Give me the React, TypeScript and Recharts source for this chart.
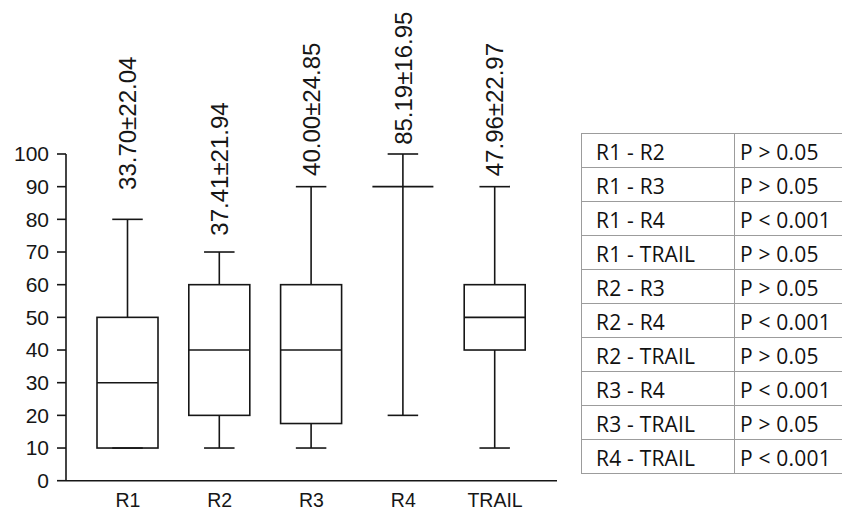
import React from 'react';
import { ComposedChart, Bar, XAxis, YAxis } from 'recharts';

// box plot values
const categories = ['R1', 'R2', 'R3', 'R4', 'TRAIL'];
const whiskerLow = [10, 10, 10, 20, 10];
const quartile1 = [10, 20, 17.5, 90, 40];
const medians = [30, 40, 40, 90, 50];
const quartile3 = [50, 60, 60, 90, 60];
const whiskerHigh = [80, 70, 90, 100, 90];
const meanSdLabels = ['33.70±22.04', '37.41±21.94', '40.00±24.85', '85.19±16.95', '47.96±22.97'];
// value where each rotated label starts
const labelBase = [89, 75, 93.3, 102.8, 93.2];

const yTicks = [0, 10, 20, 30, 40, 50, 60, 70, 80, 90, 100];

const comparisons = [
  'R1 - R2', 'R1 - R3', 'R1 - R4', 'R1 - TRAIL', 'R2 - R3',
  'R2 - R4', 'R2 - TRAIL', 'R3 - R4', 'R3 - TRAIL', 'R4 - TRAIL'
];
const pValues = [
  'P > 0.05', 'P > 0.05', 'P < 0.001', 'P > 0.05', 'P > 0.05',
  'P < 0.001', 'P > 0.05', 'P < 0.001', 'P > 0.05', 'P < 0.001'
];

const data = categories.map((name, i) => ({
  name,
  range: [whiskerLow[i], whiskerHigh[i]],
  min: whiskerLow[i],
  q1: quartile1[i],
  median: medians[i],
  q3: quartile3[i],
  max: whiskerHigh[i],
  label: meanSdLabels[i],
  labelAt: labelBase[i],
}));

const INK = '#161616';
const FONT = "'Liberation Sans', Arial, sans-serif";

const BoxShape = (props: any) => {
  const { x, y, width, height, payload } = props;
  if (!payload) return null;
  const top = Math.min(y, y + height);
  const bottom = Math.max(y, y + height);
  const { min, max } = payload;
  // map a value into the pixel span the bar scale gave for [min, max]
  const py = (v: number) => bottom - ((v - min) / (max - min)) * (bottom - top);
  const cx = x + width / 2;
  const cap = width / 4;
  const yq1 = py(payload.q1);
  const yq3 = py(payload.q3);
  const ly = py(payload.labelAt);
  const flat = yq1 - yq3 < 0.5;
  return (
    <g stroke={INK} strokeWidth={1.6} fill="none">
      <line x1={cx} x2={cx} y1={py(max)} y2={yq3} />
      <line x1={cx} x2={cx} y1={yq1} y2={py(min)} />
      <line x1={cx - cap} x2={cx + cap} y1={py(max)} y2={py(max)} />
      <line x1={cx - cap} x2={cx + cap} y1={py(min)} y2={py(min)} />
      {flat ? (
        <line x1={x} x2={x + width} y1={yq3} y2={yq3} />
      ) : (
        <>
          <rect x={x} y={yq3} width={width} height={yq1 - yq3} />
          <line x1={x} x2={x + width} y1={py(payload.median)} y2={py(payload.median)} />
        </>
      )}
      <text
        x={cx}
        y={ly}
        dy="0.36em"
        transform={`rotate(-90 ${cx} ${ly})`}
        textAnchor="start"
        fontSize={24}
        fontFamily={FONT}
        fill={INK}
        stroke="none"
      >
        {payload.label}
      </text>
    </g>
  );
};

const cellBorder = '1px solid #9c9c9c';

const App: React.FC = () => {
  return (
    <div
      style={{
        position: 'absolute',
        top: 0,
        left: 0,
        width: 842,
        height: 511,
        overflow: 'hidden',
        background: '#fff',
      }}
    >
      <ComposedChart
        width={570}
        height={511}
        data={data}
        margin={{ top: 154, right: 13, bottom: 0, left: 0 }}
      >
        <XAxis
          dataKey="name"
          height={30.3}
          padding={{ left: 16, right: 16 }}
          tickLine={false}
          tickSize={0}
          tickMargin={12}
          axisLine={{ stroke: INK, strokeWidth: 1.6 }}
          tick={{ fill: INK, fontSize: 19.5, fontFamily: FONT }}
        />
        <YAxis
          width={66}
          domain={[0, 100]}
          ticks={yTicks}
          interval={0}
          tickSize={9}
          tickMargin={8}
          axisLine={{ stroke: INK, strokeWidth: 1.6 }}
          tickLine={{ stroke: INK, strokeWidth: 1.6 }}
          tick={{ fill: INK, fontSize: 21, fontFamily: FONT }}
        />
        <Bar dataKey="range" barSize={61} shape={<BoxShape />} isAnimationActive={false} />
      </ComposedChart>
      <table
        style={{
          position: 'absolute',
          left: 581,
          top: 133,
          width: 310,
          tableLayout: 'fixed',
          borderCollapse: 'collapse',
          fontFamily: "'Open Sans', sans-serif",
          fontSize: 21,
          color: '#111',
          letterSpacing: 0.2,
        }}
      >
        <colgroup>
          <col style={{ width: 153 }} />
          <col style={{ width: 157 }} />
        </colgroup>
        <tbody>
          {comparisons.map((c, i) => (
            <tr key={c} style={{ height: 34 }}>
              <td
                style={{
                  border: cellBorder,
                  padding: '3px 0 0 14px',
                  lineHeight: '29px',
                  whiteSpace: 'nowrap',
                }}
              >
                {c}
              </td>
              <td
                style={{
                  border: cellBorder,
                  padding: '3px 0 0 5px',
                  lineHeight: '29px',
                  whiteSpace: 'nowrap',
                }}
              >
                {pValues[i]}
              </td>
            </tr>
          ))}
        </tbody>
      </table>
    </div>
  );
};

export default App;
